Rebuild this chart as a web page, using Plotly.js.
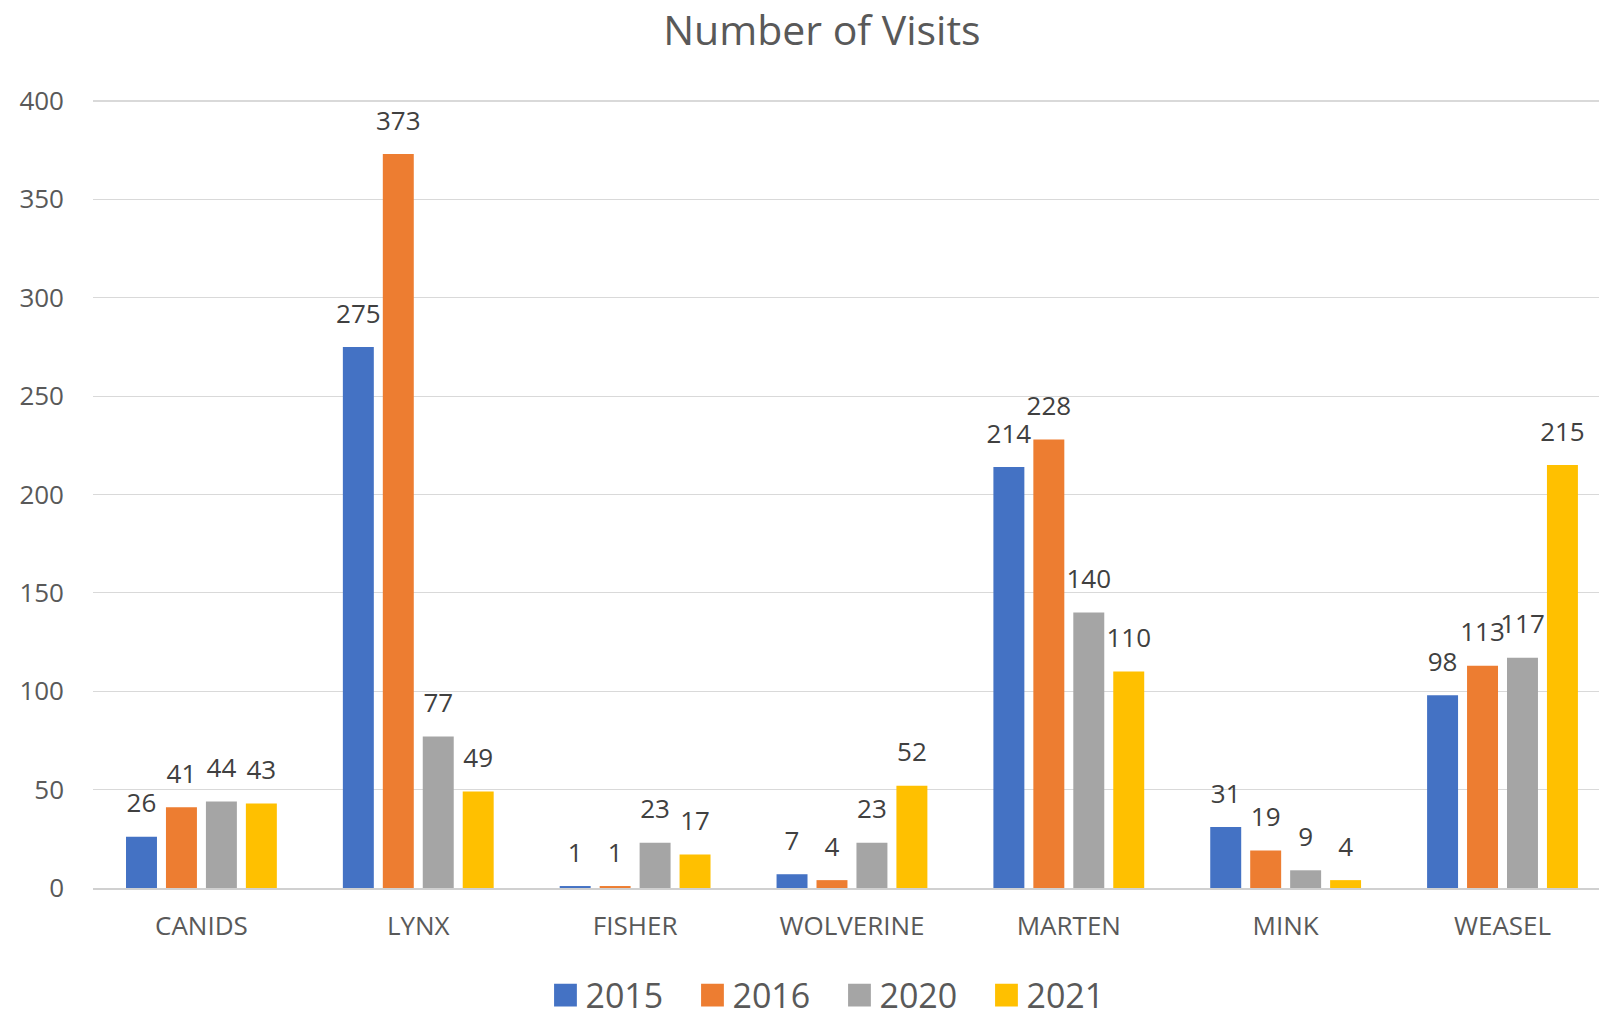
<!DOCTYPE html>
<html><head><meta charset="utf-8">
<script src="https://cdn.plot.ly/plotly-3.0.1.min.js"></script>
<style>html,body{margin:0;padding:0;background:#fff}#chart{width:1599px;height:1018px}</style>
</head><body><div id="chart"></div>
<script>
const categories = ['CANIDS','LYNX','FISHER','WOLVERINE','MARTEN','MINK','WEASEL'];
const years = ['2015','2016','2020','2021'];
const v2015 = [26,275,1,7,214,31,98];
const v2016 = [41,373,1,4,228,19,113];
const v2020 = [44,77,23,23,140,9,117];
const v2021 = [43,49,17,52,110,4,215];
const seriesValues = [v2015, v2016, v2020, v2021];
const colors = ['#4472C4','#ED7D31','#A5A5A5','#FFC000'];

const FONT = 'Open Sans, Noto Sans, sans-serif';
const traces = [];
seriesValues.forEach((vals, i) => {
  traces.push({
    type: 'bar', name: years[i], x: categories, y: vals,
    marker: {color: colors[i]}, hoverinfo: 'skip'
  });
});
seriesValues.forEach((vals, i) => {
  traces.push({
    type: 'scatter', mode: 'markers+text', x: categories, y: vals,
    text: vals.map(String), textposition: 'top center',
    textfont: {family: FONT, size: 26, color: '#404040'},
    marker: {size: 27, opacity: 0, color: colors[i]},
    showlegend: false, hoverinfo: 'skip', cliponaxis: false
  });
});

const layout = {
  width: 1599, height: 1018,
  paper_bgcolor: '#ffffff', plot_bgcolor: '#ffffff',
  margin: {l: 93, r: 0, t: 99, b: 130, pad: 0, autoexpand: false},
  font: {family: FONT, color: '#595959'},
  title: {text: 'Number of Visits', font: {family: FONT, size: 41, color: '#595959'},
          x: 0.514, xanchor: 'center', xref: 'container', y: 0.9695, yanchor: 'middle', yref: 'container'},
  barmode: 'group', bargap: 0.263, bargroupgap: 0.225,
  scattermode: 'group',
  xaxis: {type: 'category', range: [-0.5, 6.445], showgrid: false, zeroline: false,
          showline: true, linecolor: '#d0d0d0', linewidth: 1.5, automargin: false,
          tickfont: {family: FONT, size: 26, color: '#595959'}, ticks: '', ticklabelstandoff: 14},
  yaxis: {range: [0, 401], dtick: 50, tick0: 0, showgrid: true, gridcolor: '#d9d9d9', gridwidth: 1.2,
          zeroline: false, showline: false, ticks: '', automargin: false,
          tickfont: {family: FONT, size: 26, color: '#595959'}, ticklabelstandoff: 28},
  showlegend: true,
  legend: {orientation: 'h', xref: 'container', yref: 'container', x: 0.525, xanchor: 'center',
           y: 0.022, yanchor: 'middle', entrywidth: 102, entrywidthmode: 'pixels',
           font: {family: FONT, size: 34, color: '#595959'}, bgcolor: 'rgba(0,0,0,0)'}
};
const gd = document.getElementById('chart');
Plotly.newPlot(gd, traces, layout, {displayModeBar: false, staticPlot: true}).then(() => {
  gd.querySelectorAll('.legend .legendpoints path').forEach(p => {
    const t = p.getAttribute('transform') || '';
    p.setAttribute('transform', t + ' scale(1.9)');
  });
});
</script></body></html>
